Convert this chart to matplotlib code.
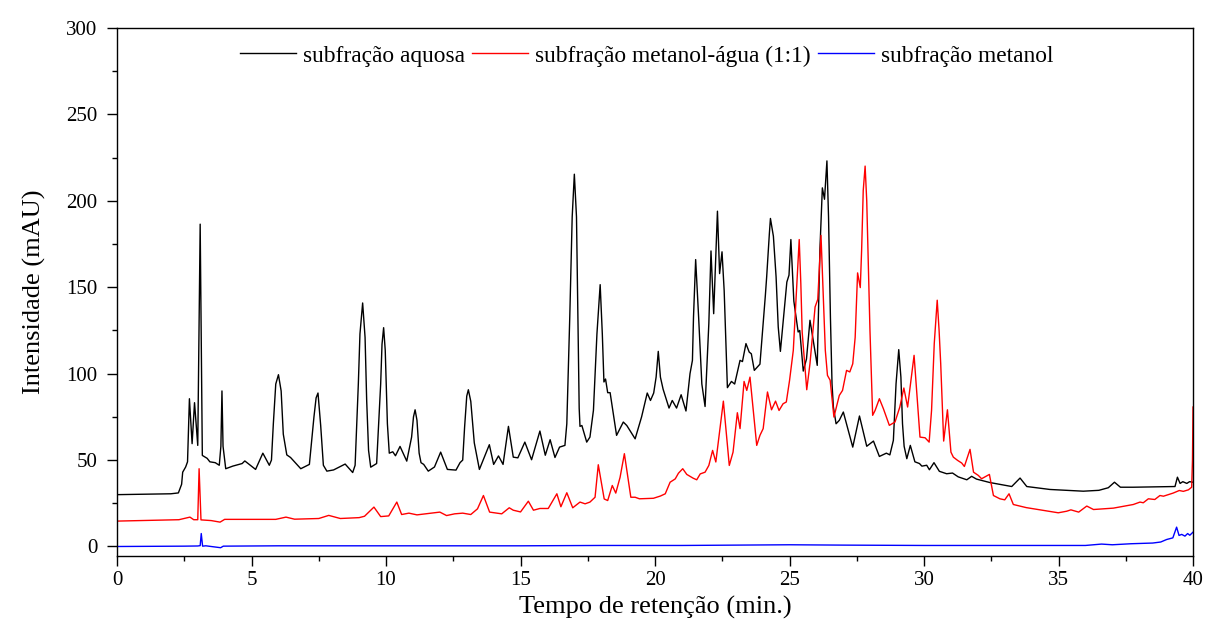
import numpy as np
import matplotlib.pyplot as plt

plt.rcParams['font.family'] = ['Liberation Serif', 'DejaVu Serif']

# (retention time in min, intensity in mAU) for each subfraction
aquosa = [
    (0, 30), (2.0, 30.5), (2.28, 31), (2.40, 36), (2.44, 43), (2.55, 46), (2.62, 49),
    (2.69, 85.5), (2.79, 59.5), (2.88, 83.2), (3.0, 58.5), (3.09, 186.5), (3.17, 52.7),
    (3.35, 51), (3.45, 49), (3.65, 48.5), (3.8, 47), (3.86, 58), (3.90, 90), (3.94, 58),
    (4.04, 45), (4.3, 46.5), (4.65, 48), (4.75, 49.5), (5.15, 44.6), (5.42, 54), (5.66, 47),
    (5.74, 50), (5.81, 71), (5.9, 94), (6.0, 99.4), (6.1, 90), (6.18, 65), (6.31, 53),
    (6.45, 51.5), (6.83, 45), (7.15, 47.5), (7.32, 75), (7.4, 86), (7.47, 88.8), (7.57, 70),
    (7.67, 47), (7.8, 43.6), (8.05, 44.3), (8.48, 47.7), (8.76, 42.8), (8.85, 47),
    (8.97, 94.2), (9.03, 123), (9.13, 140.9), (9.22, 121), (9.28, 84.5), (9.35, 55.6),
    (9.43, 45.9), (9.65, 48), (9.8, 94), (9.85, 117), (9.91, 126.6), (9.97, 113.5),
    (10.05, 71), (10.12, 54), (10.25, 54.8), (10.35, 52.5), (10.52, 57.9), (10.77, 49.4),
    (10.95, 63.3), (11.02, 75), (11.08, 79.1), (11.15, 73), (11.23, 54), (11.3, 48.5),
    (11.4, 47.5), (11.57, 43.6), (11.8, 46), (12.03, 54.6), (12.28, 44.6), (12.6, 44.2),
    (12.75, 48.5), (12.85, 50), (12.92, 69), (13.0, 87), (13.06, 90.7), (13.15, 84),
    (13.28, 60), (13.47, 44.6), (13.84, 58.9), (14.0, 47.5), (14.18, 52.4), (14.35, 47.5),
    (14.55, 69.5), (14.73, 51.7), (14.9, 51.3), (15.16, 60.4), (15.41, 50.2), (15.72, 66.8),
    (15.92, 52.8), (16.1, 61.8), (16.28, 51.5), (16.45, 57.5), (16.65, 58.5), (16.72, 71),
    (16.83, 132.8), (16.92, 190.7), (17.0, 215.4), (17.08, 190.7), (17.14, 123), (17.18, 80),
    (17.21, 69.5), (17.28, 70), (17.46, 60.4), (17.58, 63.3), (17.71, 78.8), (17.84, 123),
    (17.96, 151.5), (18.04, 123), (18.1, 95.2), (18.16, 96.9), (18.24, 89), (18.33, 89),
    (18.57, 64.3), (18.82, 72), (18.95, 70), (19.26, 62.3), (19.5, 75), (19.71, 88.8),
    (19.83, 84.5), (19.95, 88.8), (20.04, 98), (20.12, 112.9), (20.2, 98), (20.3, 91),
    (20.52, 80.1), (20.64, 84.5), (20.8, 80.1), (20.97, 87.8), (21.15, 78.4), (21.3, 100),
    (21.39, 107.7), (21.43, 132.8), (21.51, 166), (21.62, 132.8), (21.74, 94), (21.86, 81),
    (22.0, 129), (22.08, 171), (22.18, 134.7), (22.32, 194), (22.4, 157.9), (22.49, 170.5),
    (22.57, 148), (22.69, 91.9), (22.84, 95.5), (22.96, 94), (23.16, 107.7), (23.25, 107),
    (23.38, 117.4), (23.5, 112.5), (23.58, 111.5), (23.69, 101.9), (23.9, 105.5), (24.1, 145),
    (24.15, 156), (24.25, 181), (24.29, 189.8), (24.4, 179.5), (24.5, 156), (24.58, 127),
    (24.66, 112.9), (24.9, 153), (24.98, 157), (25.05, 177.6), (25.16, 142), (25.32, 124.1),
    (25.38, 125), (25.51, 101.5), (25.63, 108.5), (25.76, 130.9), (26.03, 104.8), (26.13, 172),
    (26.22, 207.5), (26.3, 200.9), (26.39, 223.1), (26.45, 190.7), (26.52, 132.8), (26.58, 94),
    (26.63, 80.7), (26.73, 71), (26.85, 73), (27.0, 77.8), (27.35, 57.5), (27.6, 75.5),
    (27.87, 58), (28.12, 61), (28.34, 52.1), (28.6, 54), (28.73, 53), (28.86, 61.4),
    (28.96, 94.2), (29.06, 113.9), (29.14, 98), (29.2, 71), (29.26, 58), (29.36, 50.8),
    (29.49, 58.5), (29.66, 49), (29.83, 48), (29.92, 46.5), (30.1, 47), (30.2, 44.4),
    (30.37, 48.5), (30.57, 43.5), (30.84, 42.1), (31.06, 42.5), (31.27, 40.3), (31.59, 38.6),
    (31.77, 40.6), (31.95, 39), (32.45, 37), (33.26, 34.7), (33.57, 39.6), (33.82, 34.7),
    (34.68, 33), (35.92, 32), (36.5, 32.5), (36.85, 34), (37.08, 37.2), (37.3, 34.3),
    (37.78, 34.3), (39.33, 34.7), (39.42, 40.1), (39.52, 36.5), (39.62, 37.5), (39.77, 36.5),
    (39.87, 37.5), (40.0, 37.2),
]

metanol_agua = [
    (0, 14.7), (2.3, 15.5), (2.71, 17), (2.85, 15.5), (3.0, 15.5), (3.05, 45), (3.12, 15.4),
    (3.5, 15), (3.83, 14.1), (4.0, 15.7), (5.0, 15.7), (5.9, 15.7), (6.28, 17), (6.6, 15.8),
    (7.5, 16.2), (7.87, 18), (8.3, 16.2), (9.0, 16.7), (9.2, 17.5), (9.55, 22.8), (9.8, 17.3),
    (10.1, 17.7), (10.4, 25.7), (10.58, 18.5), (10.85, 19.3), (11.15, 18.3), (12.0, 19.9),
    (12.25, 17.9), (12.55, 18.9), (12.85, 19.3), (13.15, 18.5), (13.4, 21.8), (13.62, 29.5),
    (13.85, 19.9), (14.3, 18.9), (14.58, 22.4), (14.73, 21), (15.0, 20), (15.29, 26.2),
    (15.48, 21), (15.72, 22), (16.03, 22), (16.35, 30.5), (16.5, 23), (16.72, 31.1),
    (16.94, 22.4), (17.21, 25.7), (17.4, 24.7), (17.58, 25.7), (17.77, 28.5), (17.89, 47.3),
    (18.11, 27.5), (18.24, 26.6), (18.41, 35.3), (18.54, 30.9), (18.7, 40), (18.86, 53.7),
    (19.1, 28.5), (19.26, 28.5), (19.42, 27.6), (19.94, 27.9), (20.2, 29.2), (20.38, 30.5),
    (20.56, 37.2), (20.75, 39.1), (20.87, 42.4), (21.03, 45), (21.18, 41.7), (21.42, 39.5),
    (21.55, 38.6), (21.68, 42), (21.86, 43), (22.0, 46.9), (22.14, 55.6), (22.26, 48.9),
    (22.54, 84.1), (22.76, 46.9), (22.9, 54.6), (23.06, 77.4), (23.16, 68.2), (23.31, 95.5),
    (23.41, 90.3), (23.53, 98), (23.78, 58.5), (23.9, 64.3), (24.02, 68.2), (24.18, 89.4),
    (24.33, 79.1), (24.48, 84.1), (24.61, 78.7), (24.76, 82.6), (24.88, 83.6), (25.0, 96),
    (25.14, 113.5), (25.24, 142.5), (25.36, 177.6), (25.42, 152), (25.47, 124), (25.64, 90.7),
    (25.76, 105.8), (25.95, 138.6), (26.05, 143), (26.17, 180), (26.26, 142.5), (26.33, 113.5),
    (26.41, 99), (26.51, 96.2), (26.65, 74.9), (26.85, 87.4), (26.97, 90.3), (27.12, 101.9),
    (27.24, 101), (27.35, 105.7), (27.44, 121), (27.53, 158.3), (27.63, 149.8), (27.68, 171.4),
    (27.74, 206), (27.81, 220.1), (27.87, 200), (27.93, 161.7), (27.99, 125.1), (28.09, 75.9),
    (28.18, 78.7), (28.34, 85.5), (28.49, 79.7), (28.71, 70.1), (28.92, 72), (29.1, 80.7),
    (29.25, 91.7), (29.39, 80.7), (29.63, 110.6), (29.75, 84.6), (29.85, 63.3), (30.04, 62.9),
    (30.19, 60.4), (30.28, 78.8), (30.38, 117.4), (30.49, 142.5), (30.56, 125), (30.62, 105.8),
    (30.73, 61), (30.87, 79.1), (31.0, 54.6), (31.09, 51.7), (31.25, 49.8), (31.4, 48.3),
    (31.5, 46.3), (31.71, 56.2), (31.84, 43), (32.02, 41.1), (32.14, 39.2), (32.43, 41.7),
    (32.58, 29.5), (32.82, 27.6), (33.0, 27), (33.16, 30.5), (33.32, 24.3), (33.8, 22.5),
    (34.31, 21.2), (34.99, 19.5), (35.3, 20.4), (35.46, 21.2), (35.75, 19.9), (36.05, 23.4),
    (36.3, 21.4), (37.04, 22.2), (37.78, 24.3), (38.03, 25.7), (38.15, 25.3), (38.34, 27.6),
    (38.58, 27.2), (38.77, 29.5), (38.9, 29.1), (39.26, 30.9), (39.49, 32.4), (39.64, 31.9),
    (39.83, 32.8), (39.95, 34.3), (39.98, 50), (40.0, 80.7),
]

metanol = [
    (0, 0), (2.5, 0.2), (3.0, 0.3), (3.09, 0.5), (3.13, 7.5), (3.18, 0.2), (3.3, 0.4),
    (3.85, -0.7), (3.95, 0.2), (6, 0.4), (10, 0.4), (15, 0.4), (18, 0.6), (21, 0.6),
    (25, 1.0), (27, 0.8), (30, 0.6), (33, 0.6), (36.0, 0.6), (36.6, 1.4), (37.0, 1.0),
    (37.7, 1.6), (38.5, 2.0), (38.8, 2.6), (39.02, 4.05), (39.25, 5.0), (39.39, 11.2),
    (39.48, 6.4), (39.58, 7.0), (39.7, 6.0), (39.8, 7.5), (39.88, 6.5), (40.0, 8.3),
]

labels = ['subfração aquosa', 'subfração metanol-água (1:1)', 'subfração metanol']
colors = ['black', 'red', 'blue']

fig = plt.figure(figsize=(12.08, 6.22), dpi=100)
ax = fig.add_axes([0.0969, 0.1061, 0.8907, 0.8489])

for data, lab, c in zip([aquosa, metanol_agua, metanol], labels, colors):
    t, y = zip(*data)
    ax.plot(t, y, color=c, lw=1.0, label=lab)

ax.set_xlim(0, 40)
ax.set_ylim(-5.5, 300)
ax.set_xticks(np.arange(0, 41, 5))
ax.set_xticks(np.arange(0, 41, 2.5), minor=True)
ax.set_yticks(np.arange(0, 301, 50))
ax.set_yticks(np.arange(0, 301, 25), minor=True)
ax.tick_params(axis='both', which='major', direction='out', length=7, width=1,
               labelsize=15, top=False, right=False)
ax.tick_params(axis='both', which='minor', direction='out', length=3.5, width=1,
               top=False, right=False)
ax.tick_params(axis='y', which='major', pad=7)
ax.tick_params(axis='x', which='major', pad=4)
for sp in ax.spines.values():
    sp.set_linewidth(1.0)

ax.set_xlabel('Tempo de retenção (min.)', fontsize=19, labelpad=4)
ax.set_ylabel('Intensidade (mAU)', fontsize=19, labelpad=15)

ax.legend(loc='upper center', bbox_to_anchor=(0.492, 0.985), ncol=3, frameon=False,
          fontsize=16.8, handlelength=2.4, handletextpad=0.3, columnspacing=0.3,
          borderaxespad=0.0)

fig.savefig('out.png', dpi=100)
